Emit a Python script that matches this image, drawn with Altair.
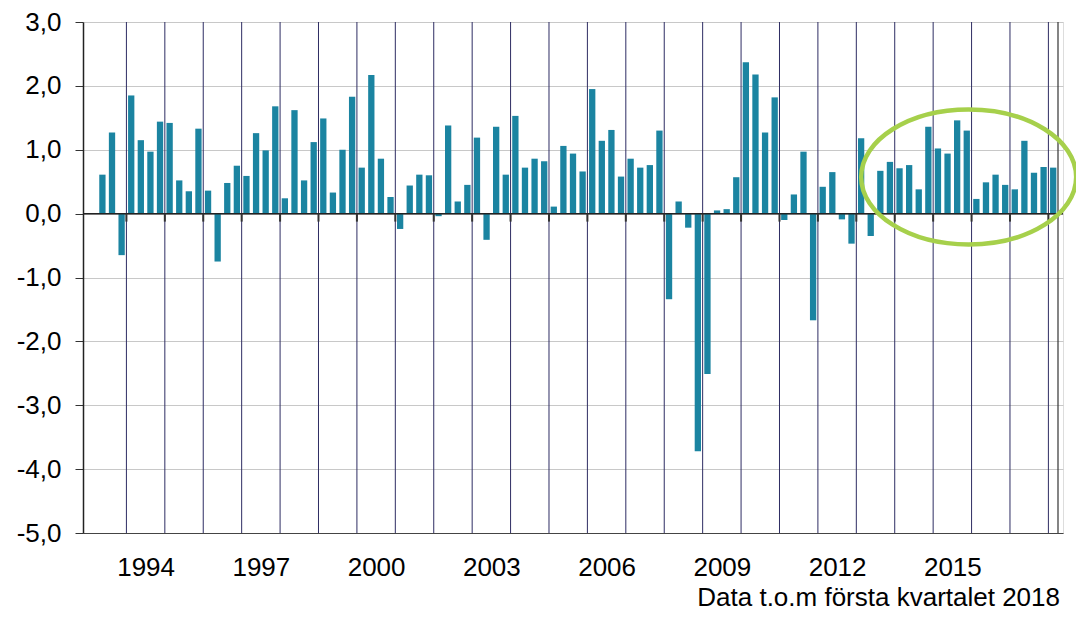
import altair as alt
import pandas as pd

FIRST_YEAR = 1993
# quarterly values, starting 1993 Q2 (1993 Q1 has no value)
values = [
    0.61, 1.27, -0.65,
    1.85, 1.15, 0.97, 1.44,
    1.42, 0.52, 0.35, 1.33,
    0.36, -0.75, 0.48, 0.75,
    0.59, 1.26, 0.99, 1.68,
    0.24, 1.62, 0.52, 1.12,
    1.49, 0.33, 1.00, 1.83,
    0.72, 2.17, 0.86, 0.26,
    -0.24, 0.44, 0.61, 0.60,
    -0.04, 1.38, 0.19, 0.45,
    1.19, -0.41, 1.36, 0.61,
    1.53, 0.72, 0.86, 0.82,
    0.11, 1.06, 0.94, 0.66,
    1.95, 1.14, 1.31, 0.58,
    0.86, 0.72, 0.76, 1.30,
    -1.34, 0.19, -0.22, -3.72,
    -2.51, 0.05, 0.07, 0.57,
    2.37, 2.18, 1.27, 1.82,
    -0.10, 0.30, 0.97, -1.67,
    0.42, 0.65, -0.09, -0.47,
    1.18, -0.35, 0.67, 0.81,
    0.71, 0.76, 0.38, 1.36,
    1.02, 0.94, 1.46, 1.30,
    0.23, 0.49, 0.61, 0.45,
    0.38, 1.14, 0.64, 0.73,
    0.72,
]
label_years = [1994, 1997, 2000, 2003, 2006, 2009, 2012, 2015]
boundary_years = list(range(1994, 2019))
y_ticks = [-5, -4, -3, -2, -1, 0, 1, 2, 3]
caption = "Data t.o.m första kvartalet 2018"
highlight_center = {"slot": 91.7, "value": 0.574}

FONT = "Liberation Sans"
N_SLOTS = 4 * (2018 - FIRST_YEAR) + 1

slots = list(range(1, 1 + len(values)))
bars_df = pd.DataFrame({
    "slot": [s + 0.5 for s in slots],
    "value": values,
    "kvartal": [f"{FIRST_YEAR + s // 4} K{s % 4 + 1}" for s in slots],
})
bound_df = pd.DataFrame({"pos": [4 * (y - FIRST_YEAR) for y in boundary_years]})
tick_df = bound_df.assign(y0=0.0, y1=-0.125)
label_pos = [4 * (y - FIRST_YEAR) + 2 for y in label_years]
one_row = pd.DataFrame({"text": [caption]})

xscale = alt.Scale(domain=[0, N_SLOTS], nice=False, zero=False)
yscale = alt.Scale(domain=[-5, 3], nice=False, zero=False)

x_axis = alt.Axis(
    values=label_pos,
    labelExpr=f"'' + ({FIRST_YEAR} + (datum.value - 2) / 4)",
    ticks=False, tickSize=0, grid=False, domain=True,
    domainColor="#444444", domainWidth=1.2,
    labelFont=FONT, labelFontSize=26, labelColor="#000000",
    labelPadding=21, title=None,
)
y_axis = alt.Axis(
    values=y_ticks,
    labelExpr="(datum.value < 0 ? '-' : '') + replace(format(abs(datum.value), '.1f'), '.', ',')",
    grid=True, gridColor="#c8c8c8", gridWidth=1,
    domain=True, domainColor="#222222", domainWidth=1.5,
    ticks=True, tickColor="#333333", tickSize=8, tickWidth=1,
    labelFont=FONT, labelFontSize=26, labelColor="#000000",
    labelPadding=14, title=None,
)

year_lines = alt.Chart(bound_df).mark_rule(color="#2e2d63", strokeWidth=1).encode(
    x=alt.X("pos:Q", scale=xscale, axis=x_axis)
)

bars = alt.Chart(bars_df).mark_bar(color="#1b84a1", width=6.3).encode(
    x=alt.X("slot:Q", scale=xscale, axis=x_axis),
    y=alt.Y("value:Q", scale=yscale, axis=y_axis),
    y2=alt.datum(0),
    tooltip=["kvartal:N", "value:Q"],
)

zero_line = alt.Chart(one_row).mark_rule(color="#222222", strokeWidth=1.5).encode(
    y=alt.datum(0, scale=yscale)
)

zero_ticks = alt.Chart(tick_df).mark_rule(color="#333333", strokeWidth=2).encode(
    x=alt.X("pos:Q", scale=xscale),
    y=alt.Y("y0:Q", scale=yscale),
    y2="y1:Q",
)

right_border = alt.Chart(one_row).mark_rule(color="#333333", strokeWidth=1.2).encode(
    x=alt.datum(N_SLOTS, scale=xscale)
)

ellipse_path = "M-1,0 A1,0.628 0 1,1 1,0 A1,0.628 0 1,1 -1,0 Z"
ellipse = alt.Chart(one_row).mark_point(
    shape=ellipse_path, filled=False, color="#a6d04b", strokeWidth=4.5,
    size=215 * 215, opacity=1,
).encode(
    x=alt.datum(highlight_center["slot"], scale=xscale),
    y=alt.datum(highlight_center["value"], scale=yscale),
)

caption_mark = alt.Chart(one_row).mark_text(
    font=FONT, fontSize=26, color="#000000",
    align="right", baseline="alphabetic",
).encode(text="text:N", x=alt.value(977), y=alt.value(584))

chart = alt.layer(
    year_lines, bars, zero_line, zero_ticks, right_border, ellipse, caption_mark
).properties(
    width=980, height=511,
    padding={"left": 75, "top": 14, "right": 13, "bottom": 79},
    autosize=alt.AutoSizeParams(type="none"),
).configure_view(
    fill="#ebebeb", stroke="#8a8a8a", strokeWidth=1
).configure(background="#ffffff")

chart.save("out.html", embed_options={"renderer": "svg", "actions": False})
